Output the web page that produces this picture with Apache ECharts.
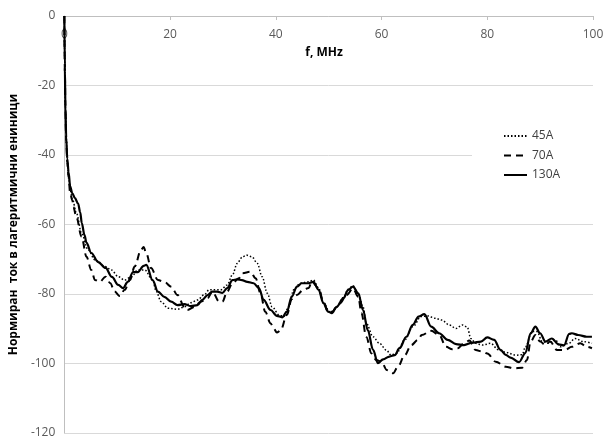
<!DOCTYPE html>
<html>
<head>
<meta charset="utf-8">
<script src="https://cdn.jsdelivr.net/npm/echarts@6/dist/echarts.min.js"></script>
<style>
    html, body { margin: 0; padding: 0; background: #fff; }
    #chart { width: 611px; height: 439px; }
</style>
</head>
<body>
<div id="chart"></div>
<script>
// x axis ticks (MHz) and y axis range
var xTicks = [0, 20, 40, 60, 80, 100];
var yMin = -120, yMax = 0, yStep = 20;
var seriesNames = ["45A", "70A", "130A"];

// 45A - [f MHz, level]
var s45 = [
    [0, 0], [0.1, -15], [0.2, -26], [0.35, -35], [0.55, -41.5], [0.8, -46], [1.1, -50], [1.5, -52.5],
    [2.3, -56.8], [3.25, -62.5], [4.5, -67.3], [5.8, -70.2], [7.7, -72.1], [8.9, -73.1], [10.2, -75],
    [11.4, -76], [12.7, -75], [13.9, -73.1], [15.2, -73.1], [16.7, -76], [17.4, -79.3], [18.3, -82.2],
    [19.6, -84.1], [21.4, -84.4], [22.7, -83.7], [23.9, -82.5], [25.2, -81.7], [26.4, -80.3],
    [27.4, -78.8], [28.6, -78.8], [29.6, -78.8], [30.8, -77.4], [31.8, -74.5], [32.7, -71.2],
    [33.6, -69.5], [34.4, -68.8], [35.5, -69.3], [36.5, -71.2], [37.4, -75], [38.4, -79.8],
    [39.3, -83.7], [40.6, -86], [41.5, -86.5], [42.4, -83.7], [43.4, -78.8], [44.6, -76.9],
    [46.2, -76.5], [47.1, -76], [48.1, -78.3], [49.0, -82.6], [50.2, -85.1], [50.6, -85.3],
    [51.5, -83.7], [52.8, -81], [53.7, -78.6], [54.6, -77.6], [55.6, -79.8], [56.5, -83.7],
    [57.1, -88.4], [58.4, -92.3], [59.6, -94.2], [60.9, -96.1], [61.8, -97.6], [62.8, -97.1],
    [64.4, -93.2], [65.9, -89.4], [67.5, -86.5], [68.7, -86.3], [70.2, -87], [71.4, -87.5],
    [72.8, -88.9], [74.1, -89.9], [75.3, -88.9], [76.2, -89.5], [76.9, -92.8], [77.8, -94.2],
    [79.1, -94.7], [80.6, -94.2], [82.2, -96.1], [83.5, -96.8], [85.4, -97.6], [86.6, -97.5],
    [87.2, -95.2], [88.5, -90.8], [89.4, -90.8], [90.4, -93.7], [91.6, -94.2], [92.9, -93.2],
    [93.8, -95.2], [95.4, -94.2], [96.6, -92.8], [98.2, -93.7], [99.8, -94.2]
];

// 70A
var s70 = [
    [0, 0], [0.1, -16], [0.2, -27], [0.35, -36], [0.55, -42], [0.8, -46.5], [1.1, -51], [1.5, -53],
    [1.7, -55], [2.3, -58], [3.25, -63.5], [4.2, -69.3], [5.1, -73.1], [5.8, -76], [6.7, -76.5],
    [7.8, -75], [8.7, -76.9], [9.5, -79.3], [10.5, -80.6], [11.4, -78.8], [12.4, -76], [13.3, -72.1],
    [14.5, -67.3], [15.0, -66.5], [15.5, -68.3], [16.4, -72.5], [17.7, -76], [18.9, -76.5],
    [20.2, -77.9], [21.4, -80.3], [22.7, -83.7], [23.3, -84.6], [24.6, -83.7], [25.8, -82.2],
    [27.1, -81.2], [28.0, -79.3], [29.3, -82.2], [29.9, -82.2], [30.8, -79.3], [31.8, -76.9],
    [33.0, -75.5], [33.7, -74], [35.2, -73.6], [36.2, -75.5], [37.1, -79.8], [38.0, -85.1],
    [39.0, -88.4], [39.6, -89.9], [40.2, -91.1], [40.9, -90.5], [42.1, -86], [43.0, -81.5],
    [44.0, -80.3], [45.2, -78.8], [46.2, -78.3], [46.8, -76.5], [48.1, -78.3], [49.0, -82.2],
    [49.9, -85.1], [50.6, -85.1], [52.1, -82.7], [53.4, -80.3], [54.6, -78.4], [55.6, -80.8],
    [56.2, -85.5], [57.1, -92.3], [58.1, -97.1], [59.0, -99], [60.0, -99.5], [61.0, -101.9],
    [62.2, -102.8], [63.1, -100.9], [64.4, -97.6], [65.6, -94.7], [66.9, -93.2], [67.6, -91.8],
    [69.4, -90.6], [70.9, -91.8], [72.2, -95.2], [73.4, -95.9], [74.4, -95.6], [75.6, -94.2],
    [76.6, -93.4], [77.8, -96.1], [79.1, -96.6], [80.0, -97.1], [81.6, -99.5], [83.5, -100.9],
    [85.0, -101.4], [86.6, -101.2], [87.5, -99], [88.2, -93.7], [89.1, -91.8], [90.0, -93.7],
    [91.0, -94.7], [91.9, -93.7], [93.2, -96.1], [94.7, -96.1], [96.0, -95.2], [97.6, -94.2],
    [98.8, -95.2], [99.8, -95.6]
];

// 130A
var s130 = [
    [0, 0], [0.1, -15], [0.2, -26], [0.35, -35], [0.55, -41], [0.8, -45], [1.1, -49], [1.5, -51],
    [2.0, -52.4], [2.6, -54], [3.0, -56.5], [3.3, -59.6], [3.8, -63], [4.2, -65.3], [5.1, -68.2],
    [6.4, -70.8], [7.8, -72.5], [9.0, -75.1], [10.2, -77.4], [11.1, -78.3], [12.0, -76.5],
    [13.0, -73.7], [13.9, -73.7], [15.0, -71.9], [15.5, -71.6], [16.7, -76], [17.7, -79.3],
    [18.9, -80.8], [20.2, -82.2], [21.4, -83.2], [22.7, -82.9], [23.9, -83.5], [25.2, -83.2],
    [26.1, -81.7], [27.1, -80.3], [28.0, -79.3], [28.9, -79.3], [29.9, -79.7], [30.8, -78.3],
    [31.8, -76], [32.7, -75.8], [33.6, -76], [34.6, -76.5], [35.8, -76.9], [36.8, -78.3],
    [37.7, -81.7], [39.0, -84.6], [40.2, -86.3], [41.2, -86.7], [42.1, -85.1], [43.0, -80.8],
    [44.0, -77.9], [44.9, -76.9], [46.2, -76.9], [47.1, -76.5], [48.1, -78.8], [49.0, -82.6],
    [49.9, -85.1], [50.6, -85.5], [51.5, -83.7], [52.8, -81.2], [53.7, -78.8], [54.6, -77.9],
    [55.6, -79.8], [56.5, -84.6], [57.4, -90.4], [58.4, -96.1], [59.3, -99.9], [60.3, -98.8],
    [61.5, -98.0], [62.5, -97.6], [63.4, -95.6], [64.7, -92.3], [65.9, -88.9], [67.0, -86.5],
    [68.1, -85.8], [69.4, -89.4], [70.9, -91.3], [72.5, -93.2], [74.1, -94.4], [75.6, -94.7],
    [77.2, -94], [78.8, -93.7], [80.0, -92.5], [81.3, -93.2], [82.5, -96.1], [83.5, -97.5],
    [84.4, -98.3], [86.0, -99.6], [87.2, -97], [88.2, -91.3], [89.1, -89.4], [90.0, -91.3],
    [91.0, -93.7], [92.2, -92.8], [93.5, -94.5], [94.5, -94.8], [95.5, -91.5], [96.0, -91.3],
    [97.2, -91.8], [98.8, -92.3], [99.8, -92.3]
];

var chart = echarts.init(document.getElementById("chart"));
var labelFont = "'Open Sans', 'Liberation Sans', sans-serif";

function lineSeries(name, data, width, type) {
    return {
        name: name,
        type: "line",
        data: data,
        smooth: 0.35,
        smoothMonotone: "x",
        showSymbol: false,
        symbol: "none",
        lineStyle: { color: "#000", width: width, type: type },
        itemStyle: { color: "#000" }
    };
}

var option = {
    animation: false,
    backgroundColor: "#fff",
    textStyle: { fontFamily: labelFont },
    grid: { left: 61, right: 18, top: 16, bottom: 6 },
    legend: {
        data: seriesNames,
        orient: "vertical",
        left: 472,
        top: 124,
        padding: [6, 40, 6, 31],
        backgroundColor: "#fff",
        itemWidth: 23,
        itemHeight: 14,
        itemGap: 7.5,
        itemStyle: { opacity: 0 },
        lineStyle: { inactiveWidth: 2 },
        textStyle: { fontSize: 12, color: "#404040", fontFamily: labelFont }
    },
    graphic: [{
        type: "text",
        x: 324,
        y: 53,
        style: {
            text: "f, MHz",
            font: "bold 12px " + labelFont,
            fill: "#000",
            align: "center",
            verticalAlign: "middle"
        }
    }],
    xAxis: {
        type: "value",
        position: "top",
        min: xTicks[0],
        max: xTicks[xTicks.length - 1],
        interval: 20,
        axisLine: { show: true, onZero: false, lineStyle: { color: "#bfbfbf" } },
        axisTick: { show: true, inside: true, length: 4, lineStyle: { color: "#bfbfbf" } },
        axisLabel: { inside: true, margin: 13, fontSize: 12, color: "#595959" },
        splitLine: { show: false }
    },
    yAxis: {
        type: "value",
        min: yMin,
        max: yMax,
        interval: yStep,
        name: "Нормиран  ток в лагеритмични ениници",
        nameLocation: "middle",
        nameGap: 42,
        nameTextStyle: { fontSize: 12, fontWeight: "bold", color: "#000" },
        axisLine: { show: true, lineStyle: { color: "#bfbfbf" } },
        axisTick: { show: false },
        axisLabel: { margin: 9, fontSize: 12, color: "#595959" },
        splitLine: { lineStyle: { color: "#d9d9d9", width: 1 } }
    },
    series: [
        lineSeries(seriesNames[0], s45, 1.5, [1.5, 2]),
        lineSeries(seriesNames[1], s70, 2, [7, 5]),
        lineSeries(seriesNames[2], s130, 2.2, "solid")
    ]
};

chart.setOption(option);
</script>
</body>
</html>
